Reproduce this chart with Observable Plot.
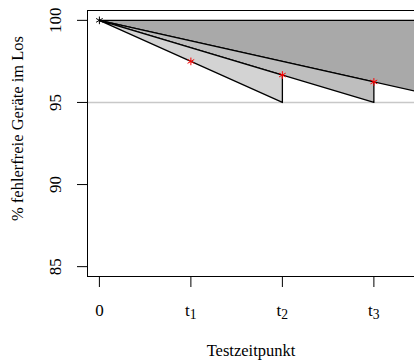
<!DOCTYPE html>
<html><head><meta charset="utf-8">
<script src="https://cdn.jsdelivr.net/npm/d3@7"></script>
<script src="https://cdn.jsdelivr.net/npm/@observablehq/plot@0.6"></script>
<style>body{margin:0;background:#fff} svg{display:block}</style>
</head><body><div id="chart"></div>
<script>
// x positions of test times and their labels
const testTimes = [0, 1, 2, 3];
const tickLabels = ["0", "t1", "t2", "t3"];
const yTicks = [85, 90, 95, 100];
const startTime = [0];
const startValue = [100];
const limitValue = [95];
// measured points (red asterisks)
const measuredTimes = [1, 2, 3];
const measuredValues = [97.5, 96.67, 96.25];
// shaded polygons (vertices)
const polyNames = ["dark", "dark", "dark", "medium", "medium", "medium", "light", "light", "light"];
const polyX = [0, 4, 4, 0, 3, 3, 0, 2, 2];
const polyY = [100, 95, 100, 100, 95, 96.25, 100, 95, 96.67];
const polyFills = {dark: "#a9a9a9", medium: "#bebebe", light: "#d3d3d3"};
const yTitle = "% fehlerfreie Geräte im Los";
const xTitle = "Testzeitpunkt";

const polys = polyNames.map((n, i) => ({n, x: polyX[i], y: polyY[i]}));
const measured = measuredTimes.map((t, i) => ({t, v: measuredValues[i]}));
const xDomain = [-0.13, 3.444];
const yDomain = [84.4, 100.6];

const marks = [
  Plot.ruleY(limitValue, {stroke: "#c8c8c8", strokeWidth: 1.5}),
  ...Object.keys(polyFills).map(k =>
    Plot.line(polys.filter(d => d.n === k), {x: "x", y: "y", curve: "linear-closed", fill: polyFills[k], stroke: "black", strokeWidth: 1.3, clip: true})
  ),
  Plot.dot(measured, {x: "t", y: "v", symbol: "asterisk", r: 3.6, stroke: "red", strokeWidth: 1}),
  Plot.dot(startTime, {x: d => d, y: (d, i) => startValue[i], symbol: "asterisk", r: 3.6, stroke: "black", strokeWidth: 1}),
  Plot.ruleX([xDomain[0]], {stroke: "black", strokeWidth: 1}),
  Plot.ruleY([yDomain[0], yDomain[1]], {stroke: "black", strokeWidth: 1}),
  Plot.axisY({ticks: yTicks, tickSize: 10, tickFormat: () => "", label: null}),
  Plot.axisX({ticks: testTimes, tickSize: 11, tickFormat: () => "", label: null}),
  Plot.text(yTicks, {y: d => d, frameAnchor: "left", text: d => String(d), rotate: -90, textAnchor: "middle", lineAnchor: "bottom", dx: -27, fontSize: 17}),
  Plot.text(testTimes, {x: d => d, frameAnchor: "bottom", text: (d, i) => tickLabels[i], textAnchor: "middle", lineAnchor: "bottom", dy: 39, fontSize: 17}),
  Plot.text([yTitle], {frameAnchor: "left", text: d => d, rotate: -90, textAnchor: "middle", lineAnchor: "bottom", dx: -65, dy: -15, fontSize: 16.5}),
  Plot.text([xTitle], {frameAnchor: "bottom", text: d => d, textAnchor: "middle", lineAnchor: "bottom", dy: 79, fontSize: 16.5})
];

const chart = Plot.plot({
  width: 414,
  height: 360,
  marginLeft: 87,
  marginRight: 0,
  marginTop: 10,
  marginBottom: 84,
  x: {domain: xDomain},
  y: {domain: yDomain},
  style: {fontFamily: "'Liberation Serif', 'Times New Roman', serif", fontSize: "17px", background: "white", color: "black"},
  marks
});

chart.querySelectorAll("text").forEach(t => {
  const m = /^t(\d)$/.exec(t.textContent);
  if (m) {
    t.textContent = "t";
    const s = document.createElementNS("http://www.w3.org/2000/svg", "tspan");
    s.setAttribute("dy", "0.28em");
    s.setAttribute("font-size", "0.8em");
    s.textContent = m[1];
    t.appendChild(s);
  }
});
document.getElementById("chart").appendChild(chart);
</script>
</body></html>
